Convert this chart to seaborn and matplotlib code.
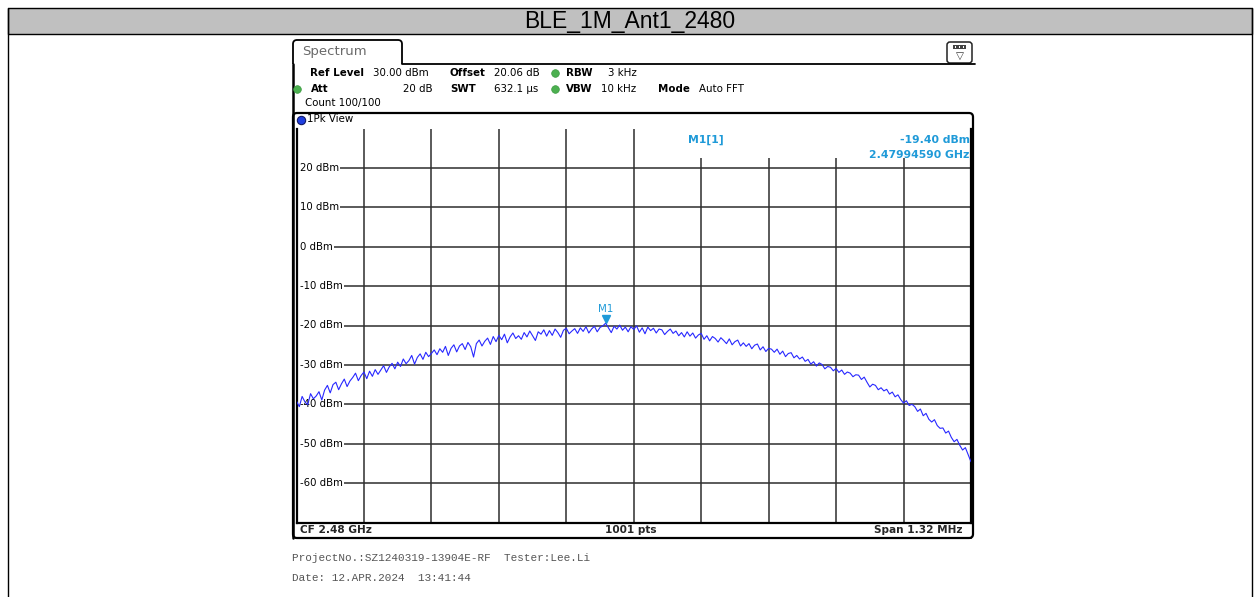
import numpy as np
import pandas as pd
import seaborn as sns
import matplotlib.pyplot as plt
from matplotlib.patches import Rectangle, FancyBboxPatch, PathPatch
from matplotlib.path import Path

# ---- measurement data -------------------------------------------------------
title = "BLE_1M_Ant1_2480"
center_ghz = 2.48
span_mhz = 1.32
ref_level_dbm = 30.0
bottom_dbm = -70.0
y_tick_dbm = [20, 10, 0, -10, -20, -30, -40, -50, -60]

level_dbm = [
    -39.2, -40.6, -38.0, -39.4, -40.1, -37.3, -38.6, -37.9, -36.8, -38.9,
    -36.4, -35.2, -37.1, -35.0, -34.4, -36.3, -34.8, -33.6, -35.5, -34.1,
    -33.2, -32.1, -34.0, -32.7, -31.8, -33.5, -31.6, -32.9, -31.2, -32.4,
    -31.3, -30.2, -31.9, -30.5, -29.6, -31.0, -29.3, -30.4, -28.5, -29.7,
    -28.9, -27.6, -29.8, -28.1, -27.2, -28.6, -26.8, -27.9, -27.1, -26.2,
    -27.4, -25.9, -26.8, -25.3, -27.6, -25.8, -24.9, -26.7, -25.2, -24.6,
    -26.1, -24.3, -25.4, -28.0, -24.6, -23.7, -25.2, -24.0, -23.2, -24.8,
    -22.8, -24.1, -22.5, -23.6, -22.2, -24.4, -22.9, -21.9, -23.3, -22.6,
    -23.5, -21.8, -22.9, -21.4, -22.6, -23.8, -21.6, -22.2, -21.1, -22.7,
    -21.3, -22.5, -20.9, -21.8, -23.0, -21.2, -20.7, -22.1, -21.4, -20.8,
    -22.0, -20.6, -21.5, -20.3, -21.9, -20.9, -20.2, -21.6, -20.5, -20.1,
    -19.4, -20.6, -21.8, -20.2, -20.9, -19.9, -21.2, -20.4, -21.6, -20.3,
    -21.0, -20.1, -21.7, -20.6, -22.1, -20.4, -21.3, -20.7, -21.9, -20.9,
    -21.1, -22.3, -21.5, -20.9, -22.0, -21.4, -22.6, -21.8, -22.9, -21.6,
    -22.7, -21.9, -23.2, -22.4, -22.0, -23.5, -22.6, -23.9, -22.8, -23.3,
    -24.2, -23.1, -23.8, -24.6, -23.4, -24.9, -24.1, -23.7, -25.2, -24.4,
    -25.3, -24.6, -25.9, -25.0, -24.7, -26.2, -25.4, -26.6, -25.8, -26.0,
    -26.8, -26.0, -27.3, -26.5, -27.9, -27.1, -26.9, -28.2, -27.6, -28.5,
    -28.0, -29.1, -28.6, -29.8, -29.2, -30.3, -29.5, -29.9, -31.0, -30.4,
    -30.6, -31.5, -30.9, -31.9, -31.3, -32.4, -31.8, -32.1, -33.0, -32.5,
    -32.6, -33.7, -33.1, -34.4, -35.6, -34.9, -35.2, -36.3, -35.8, -36.6,
    -36.2, -37.4, -36.9, -38.1, -37.6, -38.8, -39.7, -39.1, -40.3, -40.0,
    -40.6, -41.8, -41.2, -42.9, -42.3, -43.8, -44.5, -43.9, -45.4, -46.1,
    -46.0, -47.3, -46.8, -48.4, -49.5, -48.9, -50.4, -51.6, -51.0, -52.8,
    -54.6,
]

marker_freq_ghz = 2.47994590
marker_level_dbm = -19.40

settings_row1 = [("Ref Level", 310, True), ("30.00 dBm", 373, False),
                 ("Offset", 450, True), ("20.06 dB", 494, False),
                 ("RBW", 566, True), ("3 kHz", 608, False)]
settings_row2 = [("Att", 311, True), ("SWT", 450, True), ("632.1 µs", 494, False),
                 ("VBW", 566, True), ("10 kHz", 601, False),
                 ("Mode", 658, True), ("Auto FFT", 699, False)]
footer_lines = ["ProjectNo.:SZ1240319-13904E-RF  Tester:Lee.Li",
                "Date: 12.APR.2024  13:41:44"]

# ---- derived frame --------------------------------------------------------
f_start = center_ghz - span_mhz / 2000.0
f_stop = center_ghz + span_mhz / 2000.0
freq_ghz = np.linspace(f_start, f_stop, len(level_dbm))
trace = pd.DataFrame({"freq": freq_ghz, "level": level_dbm})

sns.set_style("white")
plt.rcParams["font.family"] = ["DejaVu Sans"]

W, H = 1260, 597
fig = plt.figure(figsize=(W / 100, H / 100), dpi=100)

# full-figure pixel canvas for the instrument chrome
ov = fig.add_axes([0, 0, 1, 1], zorder=0)
ov.set_xlim(0, W)
ov.set_ylim(H, 0)
ov.axis("off")

# page frame and title band
ov.add_patch(Rectangle((8, 8), 1244, 26, facecolor="#c0c0c0", edgecolor="black", lw=1.0))
ov.plot([8, 8], [8, H], color="black", lw=1.0)
ov.plot([1252, 1252], [8, H], color="black", lw=1.0)
ov.text(630, 21.5, title, ha="center", va="center", fontsize=16.5,
        family="Liberation Sans", color="black")

# "Spectrum" tab and panel outline
tab = Path([(293, 64), (293, 44), (293, 40), (297, 40), (398, 40), (402, 40), (402, 44), (402, 64)],
           [Path.MOVETO, Path.LINETO, Path.CURVE3, Path.CURVE3, Path.LINETO,
            Path.CURVE3, Path.CURVE3, Path.LINETO])
ov.add_patch(PathPatch(tab, facecolor="none", edgecolor="black", lw=1.3))
ov.plot([402, 975], [64, 64], color="black", lw=1.3)
ov.plot([292.5, 292.5], [64, 538], color="black", lw=1.8)
ov.text(302, 52, "Spectrum", ha="left", va="center", fontsize=9.5, color="#6a6a6a")

# small toolbar icon
ov.add_patch(FancyBboxPatch((947, 42), 25, 21, boxstyle="round,pad=0,rounding_size=3",
                            facecolor="white", edgecolor="#222222", lw=1.1))
ov.add_patch(Rectangle((953, 45), 13, 4, facecolor="#444444", edgecolor="none"))
for dx in (955.5, 959.5, 963.5):
    ov.add_patch(Rectangle((dx - 0.8, 46.2), 1.6, 1.6, facecolor="white", edgecolor="none"))
ov.text(959.5, 55.5, "▽", ha="center", va="center", fontsize=7.5, color="#333333")

# instrument settings
for label, x, bold in settings_row1:
    ov.text(x, 72.5, label, ha="left", va="center", fontsize=7.4,
            fontweight="bold" if bold else "normal", color="black")
for label, x, bold in settings_row2:
    ov.text(x, 88.5, label, ha="left", va="center", fontsize=7.4,
            fontweight="bold" if bold else "normal", color="black")
ov.text(433, 88.5, "20 dB", ha="right", va="center", fontsize=7.4, color="black")
ov.text(305, 103, "Count 100/100", ha="left", va="center", fontsize=7.4, color="black")
for gx, gy in [(555, 72.5), (297, 88.5), (555, 88.5)]:
    ov.plot(gx, gy, marker="o", ms=5.5, color="#4cb050", mec="#3a9a40", mew=0.5)

# diagram box and "1Pk View" title row
ov.add_patch(FancyBboxPatch((293, 113), 680, 425, boxstyle="round,pad=0,rounding_size=4",
                            facecolor="none", edgecolor="black", lw=1.6))
ov.plot(300.5, 119.5, marker="o", ms=6, color="#1f3fe0", mec="#111a66", mew=0.8)
ov.text(307, 119.5, "1Pk View", ha="left", va="center", fontsize=7.4, color="black")

# status bar under the diagram
ov.plot([296, 971], [537.5, 537.5], color="black", lw=1.4)
ov.text(300, 530, "CF 2.48 GHz", ha="left", va="center", fontsize=7.6, fontweight="bold")
ov.text(631, 530, "1001 pts", ha="center", va="center", fontsize=7.6, fontweight="bold")
ov.text(962, 530, "Span 1.32 MHz", ha="right", va="center", fontsize=7.6, fontweight="bold")

# report footer
ov.text(292, 558, footer_lines[0], ha="left", va="center", fontsize=7.9,
        family="Liberation Mono", color="#555555")
ov.text(292, 578, footer_lines[1], ha="left", va="center", fontsize=7.9,
        family="Liberation Mono", color="#555555")

# ---- spectrum diagram -------------------------------------------------------
px_l, px_r, px_t, px_b = 296.5, 971.0, 128.5, 522.5
ax = fig.add_axes([px_l / W, (H - px_b) / H, (px_r - px_l) / W, (px_b - px_t) / H], zorder=2)
ax.set_facecolor("none")
ax.set_xlim(f_start, f_stop)
ax.set_ylim(bottom_dbm, ref_level_dbm)
ax.set_xticks(np.linspace(f_start, f_stop, 11)[1:-1])
ax.set_yticks(y_tick_dbm)
ax.tick_params(length=0, labelbottom=False, labelleft=False)
ax.set_axisbelow(True)
ax.grid(True, color="#2e2e2e", lw=1.1)
for side in ("left", "right", "bottom"):
    ax.spines[side].set_visible(True)
    ax.spines[side].set_color("black")
    ax.spines[side].set_linewidth(1.6)
ax.spines["top"].set_visible(False)

# level labels sitting on the grid lines
for v in y_tick_dbm:
    ax.text(0.0045, v, f"{v} dBm", transform=ax.get_yaxis_transform(), ha="left", va="center",
            fontsize=7.3, color="black", zorder=1.2,
            bbox=dict(boxstyle="square,pad=0.12", facecolor="white", edgecolor="none"))

# marker readout area
ax.add_patch(Rectangle((0.51, 0.924), 0.49, 0.08, transform=ax.transAxes,
                       facecolor="white", edgecolor="none", zorder=1.5))
mk_color = "#1f9ad8"
ax.text(0.607, 0.97, "M1[1]", transform=ax.transAxes, ha="center", va="center",
        fontsize=7.8, fontweight="bold", color=mk_color, zorder=4)
ax.text(0.998, 0.97, f"{marker_level_dbm:.2f} dBm", transform=ax.transAxes, ha="right",
        va="center", fontsize=7.8, fontweight="bold", color=mk_color, zorder=4)
ax.text(0.998, 0.932, f"{marker_freq_ghz:.8f} GHz", transform=ax.transAxes, ha="right",
        va="center", fontsize=7.8, fontweight="bold", color=mk_color, zorder=4)

sns.lineplot(data=trace, x="freq", y="level", ax=ax, color="#2828ff", lw=0.8,
             zorder=3, legend=False)
ax.set_xlabel("")
ax.set_ylabel("")

ax.plot(marker_freq_ghz, marker_level_dbm + 1.1, marker="v", ms=5.5, color=mk_color,
        mec=mk_color, zorder=4, clip_on=False)
ax.text(marker_freq_ghz, marker_level_dbm + 3.6, "M1", ha="center", va="center",
        fontsize=7.4, color=mk_color, zorder=4)

fig.savefig("out.png", dpi=100)
